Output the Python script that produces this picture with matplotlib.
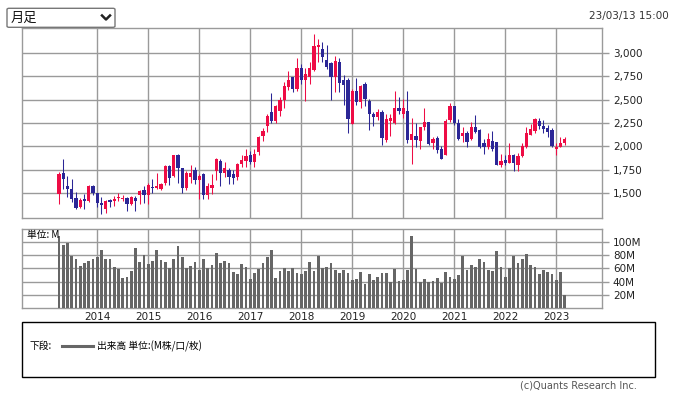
import numpy as np
import pandas as pd
import matplotlib
matplotlib.use('Agg')
import matplotlib.pyplot as plt
from matplotlib.patches import Rectangle, FancyBboxPatch
from matplotlib.lines import Line2D
from matplotlib.ticker import FuncFormatter

# 月足データ (2013/04 - 2023/03)
months = pd.period_range('2013-04', periods=120, freq='M')

opens = [1494, 1712, 1573, 1551, 1455, 1352, 1434, 1423, 1573, 1501,
         1394, 1330, 1430, 1423, 1445, 1437, 1445, 1384, 1452, 1477,
         1530, 1484, 1566, 1559, 1548, 1608, 1790, 1683, 1904, 1765,
         1558, 1672, 1751, 1637, 1701, 1480, 1558, 1736, 1850, 1722,
         1754, 1711, 1672, 1808, 1850, 1907, 1829, 1936, 2107, 2221,
         2363, 2277, 2384, 2491, 2633, 2747, 2619, 2843, 2715, 2744,
         2815, 3061, 3046, 2925, 2890, 2740, 2900, 2705, 2705, 2242,
         2591, 2470, 2662, 2484, 2342, 2317, 2370, 2064, 2270, 2249,
         2413, 2342, 2384, 2064, 2107, 2057, 2206, 2262, 2034, 2091,
         1970, 1906, 2284, 2433, 2248, 2116, 2148, 2084, 2205, 2177,
         2041, 1992, 2056, 2049, 1800, 1856, 1828, 1913, 1807, 1899,
         1999, 2127, 2170, 2269, 2219, 2198, 2177, 1977, 1999, 2041]
highs = [1726, 1861, 1680, 1655, 1512, 1452, 1494, 1591, 1591, 1505,
         1459, 1430, 1441, 1476, 1505, 1484, 1459, 1466, 1466, 1530,
         1573, 1608, 1655, 1715, 1608, 1797, 1800, 1911, 1921, 1765,
         1743, 1800, 1786, 1701, 1722, 1615, 1708, 1872, 1865, 1829,
         1765, 1754, 1822, 1907, 1978, 1950, 1971, 2114, 2192, 2342,
         2569, 2441, 2527, 2690, 2804, 2747, 2940, 2886, 2843, 2904,
         3196, 3153, 3118, 3082, 2904, 2968, 2947, 2762, 2726, 2619,
         2726, 2655, 2690, 2505, 2370, 2398, 2391, 2342, 2342, 2591,
         2527, 2505, 2591, 2299, 2256, 2213, 2413, 2262, 2106, 2113,
         2006, 2291, 2462, 2433, 2291, 2205, 2163, 2262, 2340, 2184,
         2077, 2141, 2163, 2049, 1920, 1906, 2041, 1920, 1927, 2041,
         2212, 2241, 2305, 2305, 2284, 2234, 2198, 2034, 2098, 2098]
lows = [1388, 1548, 1459, 1405, 1327, 1338, 1327, 1402, 1487, 1352,
        1281, 1290, 1352, 1366, 1416, 1413, 1316, 1370, 1309, 1388,
        1395, 1388, 1502, 1544, 1530, 1591, 1591, 1672, 1608, 1508,
        1533, 1605, 1594, 1444, 1444, 1444, 1494, 1640, 1580, 1672,
        1601, 1601, 1637, 1786, 1786, 1808, 1779, 1907, 2057, 2156,
        2249, 2249, 2327, 2406, 2605, 2584, 2591, 2662, 2484, 2662,
        2804, 2904, 2904, 2826, 2491, 2584, 2577, 2448, 2149, 2235,
        2441, 2413, 2434, 2171, 2220, 2278, 2021, 2043, 2114, 2242,
        2342, 2306, 2035, 1808, 1993, 1971, 2178, 2013, 1977, 1935,
        1871, 1906, 2262, 2227, 2070, 2049, 1999, 2070, 2141, 1985,
        1921, 1977, 1949, 1807, 1785, 1800, 1828, 1735, 1743, 1885,
        1985, 2120, 2141, 2184, 2148, 2106, 1999, 1906, 1991, 2020]
closes = [1701, 1651, 1544, 1437, 1338, 1430, 1416, 1573, 1502, 1394,
          1373, 1423, 1409, 1441, 1459, 1452, 1384, 1459, 1416, 1523,
          1484, 1591, 1555, 1580, 1594, 1790, 1665, 1904, 1772, 1558,
          1722, 1722, 1637, 1687, 1480, 1573, 1587, 1865, 1715, 1765,
          1672, 1665, 1808, 1857, 1893, 1829, 1921, 2099, 2164, 2327,
          2277, 2427, 2498, 2641, 2705, 2619, 2833, 2708, 2779, 2833,
          3068, 3089, 2954, 2847, 2740, 2908, 2683, 2655, 2292, 2591,
          2470, 2641, 2505, 2342, 2313, 2363, 2092, 2292, 2299, 2413,
          2377, 2406, 2064, 2128, 2064, 2206, 2263, 2027, 2084, 1963,
          1871, 2269, 2433, 2248, 2084, 2141, 2049, 2212, 2155, 1999,
          1992, 2077, 1977, 1807, 1849, 1828, 1913, 1828, 1899, 2006,
          2141, 2184, 2298, 2219, 2184, 2155, 2006, 1999, 2041, 2084]
# 出来高 (M)
volume = [108, 95, 97.5, 78.5, 74, 63, 67.5, 71, 74, 77,
          87.5, 74, 74, 61.5, 59, 45, 47, 56, 90.5, 69.5,
          80, 66, 71, 87.5, 72.5, 69, 61, 74, 93.5, 77,
          61, 63.5, 69.5, 58, 74, 61, 65, 83, 68, 71,
          68, 54.5, 51.5, 66.5, 62, 44, 53, 59, 68, 77,
          87.5, 45.5, 56, 60.5, 56, 60.5, 53, 51.5, 56, 69.5,
          56, 78.5, 60.5, 62, 67.5, 58, 52.5, 57, 52.5, 42.5,
          44, 54, 36, 51, 42.5, 47, 53.5, 52.5, 40, 59,
          41, 42.5, 57.5, 108.5, 59, 40, 44, 40, 41, 46,
          38, 54.5, 47, 44, 50, 78.5, 57.5, 65, 62, 74,
          69.5, 57.5, 56, 86, 62, 47, 61, 78.5, 68, 74,
          81.5, 65, 62, 51.5, 57.5, 54.5, 51.5, 42.5, 54.5, 20]

price_ticks = [1500, 1750, 2000, 2250, 2500, 2750, 3000]
vol_ticks = [20, 40, 60, 80, 100]

W, H = 674, 397
UP = '#ee0c45'
DOWN = '#2b2696'
GRID = '#9a9a9a'

def fx(x):
    return x / W

def fy(y):
    return 1 - y / H

fig = plt.figure(figsize=(W / 100, H / 100), dpi=100)
fig.patch.set_facecolor('white')

x = np.arange(len(months))
o = np.array(opens, float)
h = np.array(highs, float)
l = np.array(lows, float)
c = np.array(closes, float)
up = c >= o
colors = np.where(up, UP, DOWN)

year_idx = [i for i, m in enumerate(months) if m.month == 1]
year_lbl = [str(months[i].year) for i in year_idx]
xlim = (-8.7, 127.7)

# 上段: ローソク足
ax = fig.add_axes([fx(22), fy(218.3), fx(601.7) - fx(22), fy(28.3) - fy(218.3)])
ax.vlines(x, l, h, colors=colors, lw=0.75, zorder=3)
body = np.maximum(np.abs(c - o), 9)
ax.bar(x, body, bottom=np.minimum(o, c), width=0.75, color=colors, lw=0, zorder=4)
ax.set_xlim(*xlim)
ax.set_ylim(1233, 3262)
ax.set_xticks(year_idx)
ax.set_xticklabels([])
ax.set_yticks(price_ticks)
ax.yaxis.set_major_formatter(FuncFormatter(lambda v, p: f'{int(v):,}'))
ax.yaxis.tick_right()
ax.tick_params(axis='y', length=5, color=GRID, width=1, labelsize=7.5, pad=3, labelcolor='#222222')
ax.tick_params(axis='x', length=0)
ax.grid(True, color=GRID, lw=1.0)
for s in ax.spines.values():
    s.set_color(GRID)
    s.set_linewidth(1.0)

# 下段: 出来高
axv = fig.add_axes([fx(22), fy(308.3), fx(601.7) - fx(22), fy(229) - fy(308.3)])
axv.bar(x, volume, width=0.62, color='#666666', lw=0, zorder=3)
axv.set_xlim(*xlim)
axv.set_ylim(0, 119)
axv.set_xticks(year_idx)
axv.set_xticklabels(year_lbl)
axv.set_yticks(vol_ticks)
axv.set_yticklabels([f'{v}M' for v in vol_ticks])
axv.yaxis.tick_right()
axv.tick_params(axis='y', length=5, color=GRID, width=1, labelsize=7.5, pad=3, labelcolor='#222222')
axv.tick_params(axis='x', length=0, labelsize=7.5, pad=3, labelcolor='#222222')
axv.grid(True, color=GRID, lw=1.0)
for s in axv.spines.values():
    s.set_color(GRID)
    s.set_linewidth(1.0)
axv.text(0.008, 0.93, '単位: M', transform=axv.transAxes, fontsize=7,
         family=['Noto Sans CJK JP', 'DejaVu Sans'], va='center', ha='left', zorder=5)

# 凡例ボックス
fig.patches.append(Rectangle((fx(22), fy(377)), fx(655) - fx(22), fy(322) - fy(377),
                             transform=fig.transFigure, fill=False, ec='black', lw=1.0))
fig.text(fx(29), fy(346), '下段:', fontsize=7, family=['Noto Sans CJK JP', 'DejaVu Sans'],
         va='center', ha='left')
fig.lines.append(Line2D([fx(62), fx(93)], [fy(346), fy(346)], transform=fig.transFigure,
                        color='#666666', lw=2.2))
fig.text(fx(97), fy(346), '出来高 単位:(M株/口/枚)', fontsize=7,
         family=['Noto Sans CJK JP', 'DejaVu Sans'], va='center', ha='left')

fig.text(fx(637), fy(386), '(c)Quants Research Inc.', fontsize=7, color='#555555',
         va='center', ha='right')

# 上部: 月足セレクト / 日時
fig.patches.append(FancyBboxPatch((fx(7), fy(27.3)), fx(115) - fx(7), fy(8.3) - fy(27.3),
                                  boxstyle='round,pad=0,rounding_size=0.003',
                                  transform=fig.transFigure, fc='white', ec='#777777', lw=1.0))
fig.text(fx(11), fy(18), '月足', fontsize=9.5, family=['Noto Sans CJK JP', 'DejaVu Sans'],
         va='center', ha='left', color='#111111')
fig.lines.append(Line2D([fx(102), fx(106), fx(110)], [fy(15.5), fy(19.5), fy(15.5)],
                        transform=fig.transFigure, color='#222222', lw=1.8))
fig.text(fx(669), fy(16), '23/03/13 15:00', fontsize=7.5, color='#333333',
         va='center', ha='right')

fig.savefig('out.png', dpi=100)
